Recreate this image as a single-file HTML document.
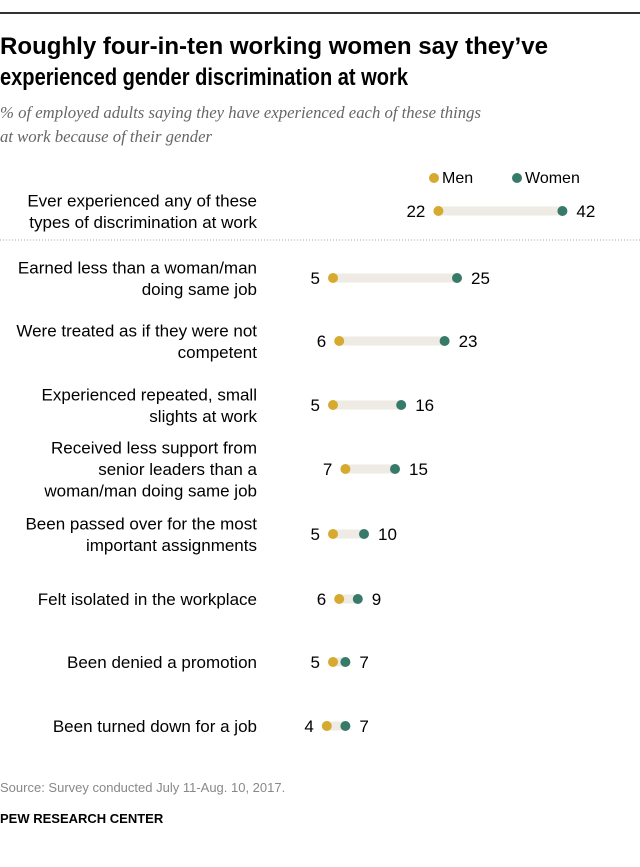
<!DOCTYPE html>
<html><head><meta charset="utf-8"><style>
body{margin:0;background:#fff;}
svg{display:block;font-family:"Liberation Sans",sans-serif;}
</style></head><body>
<svg id="chart" width="640" height="867" viewBox="0 0 640 867">
<line x1="0" y1="13" x2="640" y2="13" stroke="#333" stroke-width="2"/>
<text x="0" y="54" font-size="24" font-weight="bold" fill="#000" textLength="548" lengthAdjust="spacingAndGlyphs">Roughly four-in-ten working women say they’ve</text>
<text x="0" y="85" font-size="24" font-weight="bold" fill="#000" textLength="408" lengthAdjust="spacingAndGlyphs">experienced gender discrimination at work</text>
<text x="0" y="118" font-size="17" font-style="italic" font-family="Liberation Serif, serif" fill="#666" textLength="481" lengthAdjust="spacingAndGlyphs">% of employed adults saying they have experienced each of these things</text>
<text x="0" y="142" font-size="17" font-style="italic" font-family="Liberation Serif, serif" fill="#666" textLength="212" lengthAdjust="spacingAndGlyphs">at work because of their gender</text>
<g>
<circle cx="434" cy="178" r="5" fill="#d6a92f"/>
<text x="442" y="183" font-size="16">Men</text>
<circle cx="517" cy="178" r="5" fill="#387a6a"/>
<text x="525" y="183" font-size="16">Women</text>
</g>
<line x1="0" y1="240" x2="640" y2="240" stroke="#aaa" stroke-width="1" stroke-dasharray="1,2"/>
<g id="rows"></g>
<text x="0" y="792" font-size="13" fill="#888">Source: Survey conducted July 11-Aug. 10, 2017.</text>
<text x="0" y="823" font-size="13" font-weight="bold" fill="#000">PEW RESEARCH CENTER</text>
</svg>
<script>
const categories=[
["Ever experienced any of these","types of discrimination at work"],
["Earned less than a woman/man","doing same job"],
["Were treated as if they were not","competent"],
["Experienced repeated, small","slights at work"],
["Received less support from","senior leaders than a","woman/man doing same job"],
["Been passed over for the most","important assignments"],
["Felt isolated in the workplace"],
["Been denied a promotion"],
["Been turned down for a job"]];
const men=[22,5,6,5,7,5,6,5,4];
const women=[42,25,23,16,15,10,9,7,7];
const rowY=[211,278,341,405,469,534,599,662,726];
const NS="http://www.w3.org/2000/svg";
const g=document.getElementById('rows');
const x=v=>302+v*6.2;
function mk(t,a){const e=document.createElementNS(NS,t);for(const k in a)e.setAttribute(k,a[k]);g.appendChild(e);return e;}
categories.forEach((lines,i)=>{
const y=rowY[i];
const n=lines.length;
lines.forEach((l,j)=>{
const t=mk('text',{x:257,y:y+6+(j-(n-1)/2)*21.5,'font-size':17,'text-anchor':'end',fill:'#000'});


t.textContent=l;});
const b=mk('rect',{x:x(men[i]),y:y-4.5,width:x(women[i])-x(men[i]),height:9,fill:'#eeebe4'});


const cm=mk('circle',{cx:x(men[i]),cy:y,r:5,fill:'#d6a92f'});


const cw=mk('circle',{cx:x(women[i]),cy:y,r:5,fill:'#387a6a'});


const tm=mk('text',{x:x(men[i])-13,y:y+6,'font-size':17,'text-anchor':'end'});


tm.textContent=men[i];
const tw=mk('text',{x:x(women[i])+14,y:y+6,'font-size':17,'text-anchor':'start'});


tw.textContent=women[i];
});
</script>
</body></html>
